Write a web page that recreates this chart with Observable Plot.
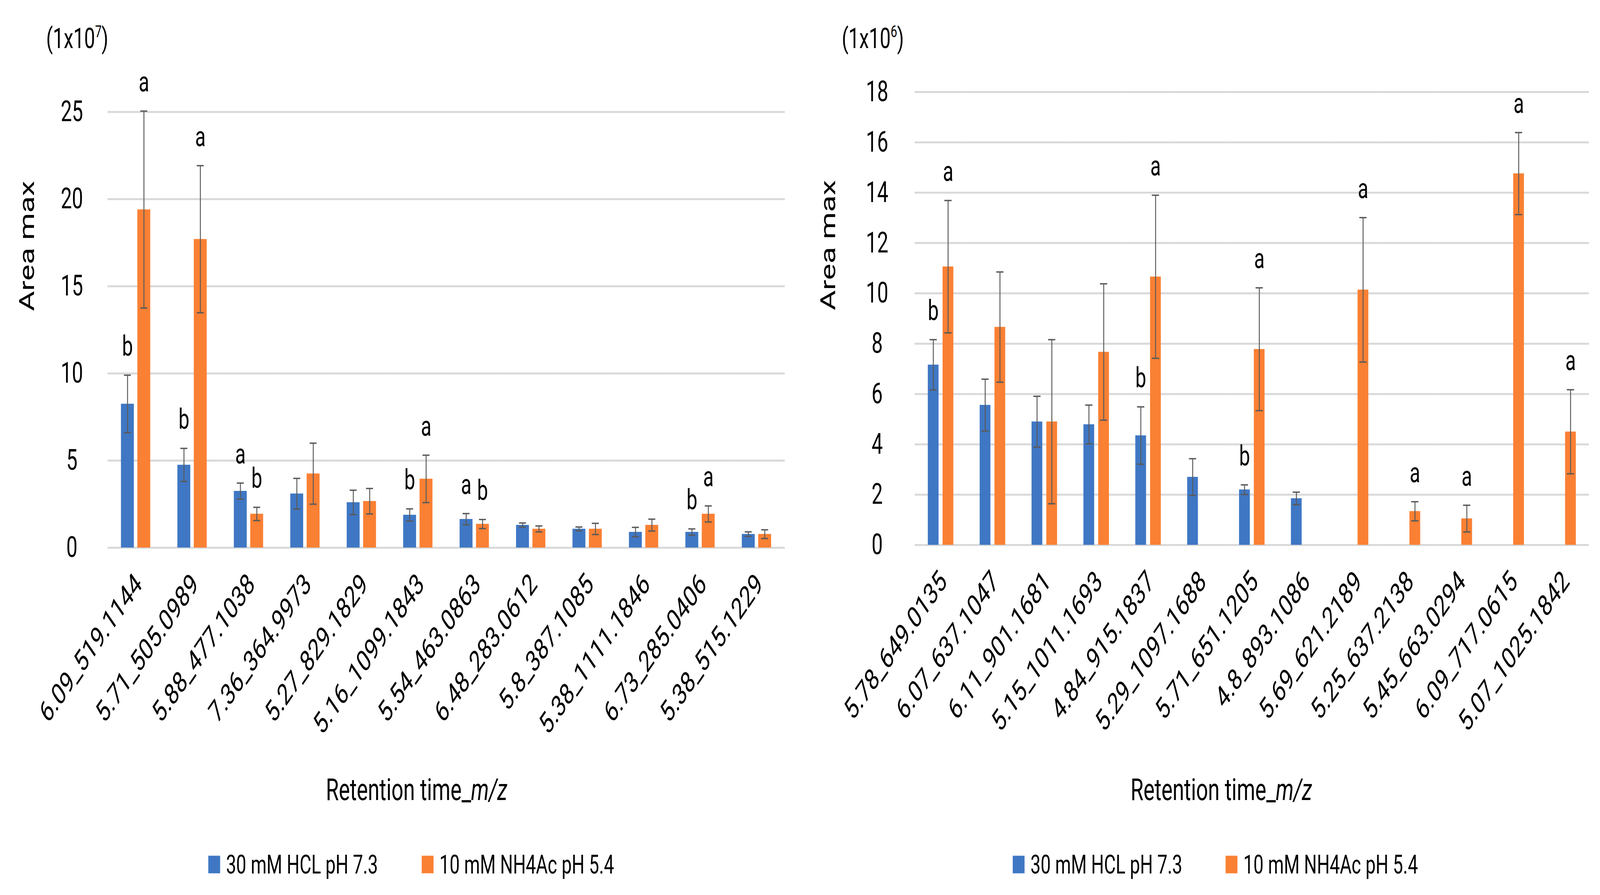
<!DOCTYPE html>
<html>
<head>
<meta charset="utf-8">
<script src="https://cdn.jsdelivr.net/npm/d3@7"></script>
<script src="https://cdn.jsdelivr.net/npm/@observablehq/plot@0.6"></script>
<style>
html, body { margin: 0; padding: 0; background: #fff; overflow: hidden; }
#page { position: relative; width: 5953px; height: 2290px; background: #fff; font-family: Roboto, sans-serif; color: #000; overflow: hidden; transform-origin: 0 0; }
.panel { position: absolute; top: 170px; }
.unit { position: absolute; font-size: 72px; line-height: 1; transform: translateY(-50%); white-space: nowrap; }
.unit sup { font-size: 0.6em; vertical-align: 0.65em; line-height: 0; }
.xtitle { position: absolute; font-size: 78px; line-height: 1; transform: translate(-50%, -50%); white-space: nowrap; }
.leg { position: absolute; display: flex; align-items: center; font-size: 67px; line-height: 1; transform: translateY(-50%); white-space: nowrap; }
.sw { width: 44px; height: 45px; margin-right: 22px; }
</style>
</head>
<body>
<div id="page"></div>
<script>
// ---- data ----
const seriesNames = ["30 mM HCL pH 7.3", "10 mM NH4Ac pH 5.4"];
const seriesColors = ["#3F77C4", "#FA8033"];

// Left chart (x1e7)
const leftCategories = ["6.09_519.1144", "5.71_505.0989", "5.88_477.1038", "7.36_364.9973", "5.27_829.1829", "5.16_1099.1843", "5.54_463.0863", "6.48_283.0612", "5.8_387.1085", "5.38_1111.1846", "6.73_285.0406", "5.38_515.1229"];
const leftHCL = [8.25, 4.75, 3.25, 3.1, 2.6, 1.88, 1.64, 1.3, 1.08, 0.9, 0.9, 0.78];
const leftHCLErr = [1.65, 0.95, 0.46, 0.88, 0.7, 0.35, 0.32, 0.12, 0.11, 0.27, 0.18, 0.13];
const leftHCLLetters = ["b", "b", "a", "", "", "b", "a", "", "", "", "b", ""];
const leftNH4 = [19.4, 17.7, 1.94, 4.25, 2.67, 3.95, 1.36, 1.08, 1.08, 1.3, 1.94, 0.78];
const leftNH4Err = [5.65, 4.22, 0.38, 1.75, 0.73, 1.36, 0.26, 0.17, 0.32, 0.34, 0.46, 0.25];
const leftNH4Letters = ["a", "a", "b", "", "", "a", "b", "", "", "", "a", ""];
const leftYTicks = [0, 5, 10, 15, 20, 25];

// Right chart (x1e6)
const rightCategories = ["5.78_649.0135", "6.07_637.1047", "6.11_901.1681", "5.15_1011.1693", "4.84_915.1837", "5.29_1097.1688", "5.71_651.1205", "4.8_893.1086", "5.69_621.2189", "5.25_637.2138", "5.45_663.0294", "6.09_717.0615", "5.07_1025.1842"];
const rightHCL = [7.16, 5.56, 4.9, 4.79, 4.35, 2.7, 2.2, 1.85, null, null, null, null, null];
const rightHCLErr = [1.0, 1.03, 1.01, 0.77, 1.14, 0.73, 0.19, 0.25, null, null, null, null, null];
const rightHCLLetters = ["b", "", "", "", "b", "", "b", "", "", "", "", "", ""];
const rightNH4 = [11.06, 8.66, 4.9, 7.67, 10.66, null, 7.78, null, 10.14, 1.34, 1.05, 14.76, 4.5];
const rightNH4Err = [2.63, 2.19, 3.26, 2.71, 3.24, null, 2.44, null, 2.87, 0.38, 0.53, 1.63, 1.67];
const rightNH4Letters = ["a", "", "", "", "a", "", "a", "", "a", "a", "a", "a", "a"];
const rightYTicks = [0, 2, 4, 6, 8, 10, 12, 14, 16, 18];

function buildRows(cats, a, aErr, aLet, b, bErr, bLet) {
  const out = [];
  cats.forEach((c, i) => {
    [[a, aErr, aLet, 0], [b, bErr, bLet, 1]].forEach(([v, e, l, s]) => {
      if (v[i] == null) return;
      out.push({cat: c, series: seriesNames[s], value: v[i], lo: v[i] - e[i], hi: v[i] + e[i], letter: l[i]});
    });
  });
  return out;
}

const errColor = "#5a5a5a";

function makeChart(o) {
  const data = o.data;
  return Plot.plot({
    width: o.width,
    height: 1730,
    marginTop: o.mt,
    marginBottom: o.mb,
    marginLeft: o.ml,
    marginRight: o.mr,
    style: {fontFamily: "Roboto, sans-serif", background: "#fff", color: "#000", overflow: "visible"},
    fx: {domain: o.cats, padding: 0, label: null},
    x: {domain: seriesNames, paddingInner: o.pIn, paddingOuter: o.pOut, axis: null},
    y: {domain: [0, o.yMax]},
    color: {domain: seriesNames, range: seriesColors},
    marks: [
      Plot.gridY(o.ticks, {stroke: "#d9d9d9", strokeOpacity: 1, strokeWidth: 5}),
      Plot.barY(data, {fx: "cat", x: "series", y: "value", fill: "series"}),
      Plot.ruleX(data, {fx: "cat", x: "series", y1: "lo", y2: "hi", stroke: errColor, strokeWidth: 3.5}),
      Plot.tickY(data, {fx: "cat", x: "series", y: "lo", stroke: errColor, strokeWidth: 3.5, insetLeft: o.capInset, insetRight: o.capInset}),
      Plot.tickY(data, {fx: "cat", x: "series", y: "hi", stroke: errColor, strokeWidth: 3.5, insetLeft: o.capInset, insetRight: o.capInset}),
      Plot.text(data.filter(d => d.letter), {fx: "cat", x: "series", y: "hi", text: "letter", lineAnchor: "bottom", dy: -50, fontSize: 72, fill: "#000"}),
      Plot.axisY(o.ticks, {tickSize: 0, tickPadding: o.tickPad, textAnchor: "middle", tickFormat: d => String(d), label: null, fontSize: 74, fill: "#000"}),
      Plot.axisFx({anchor: "bottom", tickRotate: -45, tickSize: 0, tickPadding: 80, dx: 10, label: null, fontSize: 76, fill: "#000"}),
      Plot.text(["Area max"], {fx: () => o.cats[0], frameAnchor: "left", rotate: -90, dx: o.labelDx, dy: o.labelDy, fontSize: 79, fill: "#000"})
    ]
  });
}

const page = document.getElementById("page");

function addPanel(left, chartEl) {
  const p = document.createElement("div");
  p.className = "panel";
  p.style.left = left + "px";
  p.appendChild(chartEl);
  page.appendChild(p);
}

function addHTML(html) {
  const d = document.createElement("div");
  d.innerHTML = html;
  while (d.firstChild) page.appendChild(d.firstChild);
}

const leftChart = makeChart({
  cats: leftCategories,
  data: buildRows(leftCategories, leftHCL, leftHCLErr, leftHCLLetters, leftNH4, leftNH4Err, leftNH4Letters),
  yMax: 25, ticks: leftYTicks,
  width: 2976, mt: 116, mb: 499, ml: 396, mr: 53,
  pIn: 0.21, pOut: 0.803, capInset: 11, tickPad: 133,
  labelDx: -300, labelDy: -48
});
const rightChart = makeChart({
  cats: rightCategories,
  data: buildRows(rightCategories, rightHCL, rightHCLErr, rightHCLLetters, rightNH4, rightNH4Err, rightNH4Letters),
  yMax: 18, ticks: rightYTicks,
  width: 2977, mt: 65, mb: 506, ml: 423, mr: 38,
  pIn: 0.268, pOut: 0.862, capInset: 6.5, tickPad: 140,
  labelDx: -321, labelDy: -21
});

addPanel(0, leftChart);
addPanel(2976, rightChart);

function legendHTML(x1, x2) {
  return `<div class="leg" style="left:${x1}px;top:2212px"><div class="sw" style="background:${seriesColors[0]}"></div><span>${seriesNames[0]}</span></div>` +
         `<div class="leg" style="left:${x2}px;top:2212px"><div class="sw" style="background:${seriesColors[1]}"></div><span>${seriesNames[1]}</span></div>`;
}

addHTML(`<div class="unit" style="left:172px;top:99px">(1x10<sup>7</sup>)</div>`);
addHTML(`<div class="unit" style="left:3132px;top:99px">(1x10<sup>6</sup>)</div>`);
addHTML(`<div class="xtitle" style="left:1550px;top:2021px">Retention time_<i>m/z</i></div>`);
addHTML(`<div class="xtitle" style="left:4544px;top:2021px">Retention time_<i>m/z</i></div>`);
addHTML(legendHTML(775, 1569));
addHTML(legendHTML(3768, 4560));

// The window may be narrower than the 5953x2290 design: fit the page to it.
function fit() {
  const sx = Math.min(1, window.innerWidth / 5953);
  const sy = Math.min(1, window.innerHeight / 2290);
  page.style.transform = (sx < 1 || sy < 1) ? `scale(${sx}, ${sy})` : "";
}
fit();
window.addEventListener("resize", fit);
</script>
</body>
</html>
